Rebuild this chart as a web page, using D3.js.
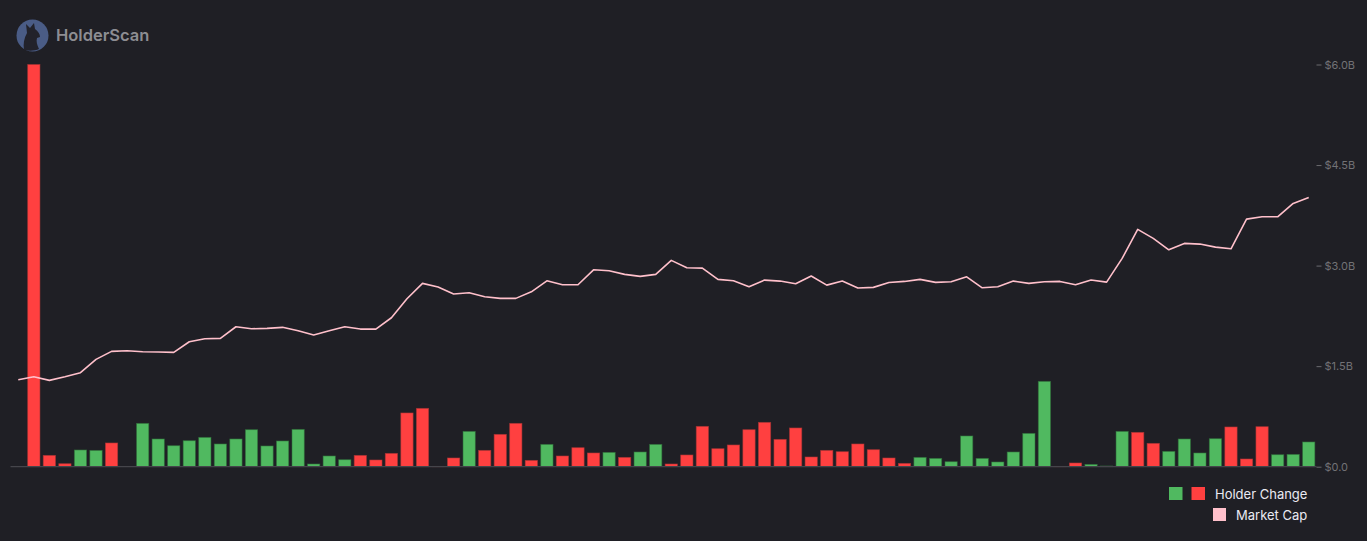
<!DOCTYPE html>
<html>
<head>
<meta charset="utf-8">
<script src="https://cdn.jsdelivr.net/npm/d3@7"></script>
<style>
html,body{margin:0;padding:0;background:#1f1f25;}
svg{display:block;}
</style>
</head>
<body>
<svg id="chart" width="1367" height="541"></svg>
<script>
// ---- data ----
const days = d3.range(84).map(i => "D" + (i + 1));
const holderChange = [
  0, -10050, -283, -75, 418, 408, -593, 0, 1083, 693,
  525, 650, 733, 568, 693, 925, 518, 643, 933, 68,
  268, 175, -283, -168, -333, -1343, -1458, -8, -218, 883,
  -408, -808, -1083, -158, 558, -268, -475, -343, 358, -233,
  368, 558, -68, -293, -1008, -450, -543, -925, -1108, -683,
  -968, -243, -408, -375, -568, -425, -218, -83, 233, 208,
  125, 768, 208, 118, 368, 833, 2133, -8, -93, 58,
  18, 883, -858, -583, 383, 693, 343, 700, -993, -193,
  -1000, 300, 308, 618
];
const marketCap = [
  1.297, 1.342, 1.288, 1.342, 1.402, 1.601, 1.721, 1.730, 1.715, 1.710,
  1.706, 1.864, 1.909, 1.915, 2.088, 2.058, 2.064, 2.079, 2.028, 1.964,
  2.028, 2.088, 2.053, 2.053, 2.222, 2.505, 2.735, 2.680, 2.577, 2.594,
  2.535, 2.511, 2.511, 2.609, 2.773, 2.714, 2.714, 2.937, 2.923, 2.869,
  2.839, 2.869, 3.078, 2.967, 2.963, 2.794, 2.773, 2.684, 2.784, 2.769,
  2.729, 2.844, 2.709, 2.769, 2.665, 2.675, 2.747, 2.764, 2.794, 2.750,
  2.759, 2.833, 2.669, 2.684, 2.769, 2.735, 2.759, 2.764, 2.714, 2.784,
  2.754, 3.107, 3.540, 3.406, 3.236, 3.331, 3.321, 3.276, 3.251, 3.693,
  3.728, 3.728, 3.928, 4.017
].map(v => v * 1e9);
const capTicks = [0, 1.5e9, 3.0e9, 4.5e9, 6.0e9];
const legendItems = ["Holder Change", "Market Cap"];

// ---- layout ----
const svg = d3.select("#chart");
const plot = {left: 10.5, right: 1316.5, top: 64.5, bottom: 466.7};
const GREEN = "#50b960", RED = "#ff4040", PINK = "#ffc0cb";

const x = d3.scaleBand()
  .domain(days)
  .range([plot.left, plot.right])
  .paddingInner(0.21)
  .paddingOuter(0.105);

const yCap = d3.scaleLinear().domain([0, 6e9]).range([plot.bottom, plot.top]);
const maxAbs = d3.max(holderChange, d => Math.abs(d));
const yHold = d3.scaleLinear().domain([0, maxAbs]).range([plot.bottom, plot.top]);

// bars
svg.append("g").selectAll("rect")
  .data(holderChange)
  .join("rect")
  .attr("x", (d, i) => x(days[i]))
  .attr("width", x.bandwidth())
  .attr("y", d => yHold(Math.abs(d)))
  .attr("height", d => plot.bottom - yHold(Math.abs(d)))
  .attr("fill", d => d >= 0 ? GREEN : RED)
  .attr("stroke", d => d >= 0 ? "#2f6e3b" : "#a83434")
  .attr("stroke-width", 0.8)
  .attr("stroke-opacity", 0.7);

// baseline
svg.append("line")
  .attr("x1", plot.left).attr("x2", plot.right)
  .attr("y1", plot.bottom).attr("y2", plot.bottom)
  .attr("stroke", "#45454b").attr("stroke-width", 1.2);

// line
const line = d3.line()
  .x((d, i) => x(days[i]) + x.bandwidth() / 2)
  .y(d => yCap(d));
svg.append("path")
  .datum(marketCap)
  .attr("d", line)
  .attr("fill", "none")
  .attr("stroke", PINK)
  .attr("stroke-width", 1.6)
  .attr("stroke-linejoin", "round");

// right axis
const axis = d3.axisRight(yCap)
  .tickValues(capTicks)
  .tickSize(5)
  .tickPadding(3)
  .tickFormat(d => "$" + (d === 0 ? "0.0" : (d / 1e9).toFixed(1) + "B"));
const ag = svg.append("g")
  .attr("transform", `translate(${plot.right},0)`)
  .call(axis);
ag.select(".domain").remove();
ag.selectAll(".tick line").attr("stroke", "#6b6b6f");
ag.selectAll(".tick text")
  .attr("fill", "#727276")
  .style("font-family", "Inter, 'Noto Sans', sans-serif")
  .style("font-size", "11px");

// legend
const lg = svg.append("g").style("font-family", "Inter, 'Noto Sans', sans-serif");
lg.append("rect").attr("x", 1169).attr("y", 487).attr("width", 13.5).attr("height", 13).attr("fill", GREEN);
lg.append("rect").attr("x", 1191.5).attr("y", 487).attr("width", 13.5).attr("height", 13).attr("fill", RED);
lg.append("text").attr("x", 1215).attr("y", 498.5).text(legendItems[0])
  .attr("fill", "#eaeaf2").style("font-size", "13px");
lg.append("rect").attr("x", 1213).attr("y", 508).attr("width", 13).attr("height", 13).attr("fill", PINK);
lg.append("text").attr("x", 1236).attr("y", 519.5).text(legendItems[1])
  .attr("fill", "#eaeaf2").style("font-size", "13px");

// logo
const logo = svg.append("g");
logo.append("circle").attr("cx", 32.5).attr("cy", 35.5).attr("r", 16).attr("fill", "#4a5c86");
logo.append("path")
  .attr("d", "M24,50 C23,44 24,38 27,33 L26,24 L30,28 L34,23 L35,29 C38,31 40,34 40,37 L37,38 C36,41 37,45 39,49 C35,51 29,51 24,50 Z")
  .attr("fill", "#22222b");
logo.append("text")
  .attr("x", 56).attr("y", 41)
  .text("HolderScan")
  .attr("fill", "#8d8d92")
  .style("font-family", "Inter, 'Noto Sans', sans-serif")
  .style("font-size", "16.5px")
  .style("font-weight", "600");
</script>
</body>
</html>
